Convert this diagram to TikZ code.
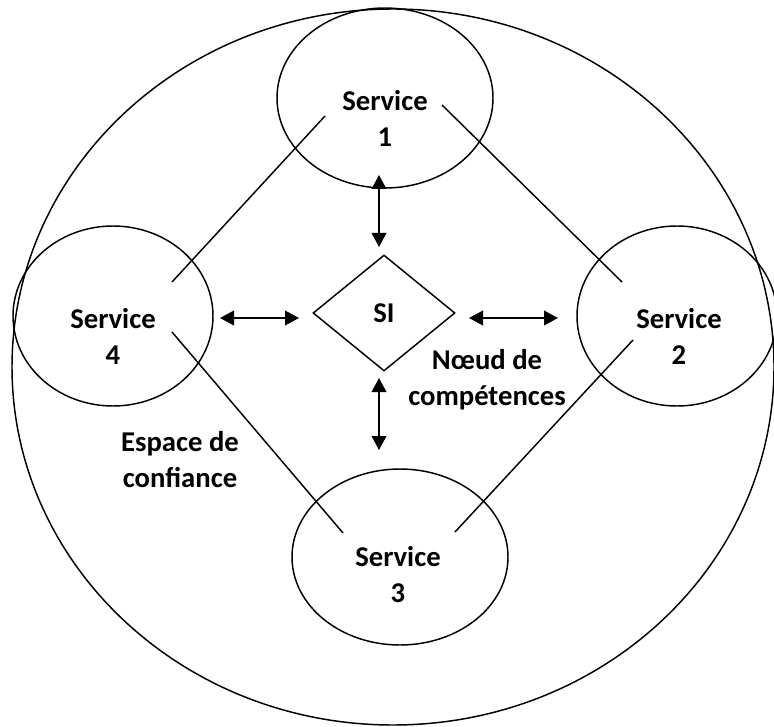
\documentclass[tikz,border=0pt]{standalone}
\usepackage{fontspec}
\setmainfont{Carlito}
\usetikzlibrary{shapes.geometric,arrows.meta}

\begin{document}
\begin{tikzpicture}[x=0.75pt, y=-0.75pt, line width=1.1pt,
		txt/.style={align=center, inner sep=0pt, font=\bfseries\fontsize{21.5}{27}\selectfont},
		service/.style={shape=ellipse, draw, inner sep=0pt, minimum width=160pt, minimum height=135pt},
		si/.style={txt, shape=diamond, draw, aspect=1.22, minimum width=106.5pt, minimum height=87pt},
		fleche/.style={{Triangle[length=10.5pt,width=11pt]}-{Triangle[length=10.5pt,width=11pt]}}]
		\useasboundingbox (0,0) rectangle (774,727);
		% espace de confiance
		\node (espace) at (393,367) [ellipse, draw, minimum width=571.5pt, minimum height=537pt] {};
		% services
		\node (s1) at (385,98) [service, minimum width=162pt] {};
		\node (s2) at (677,316) [service, minimum width=150pt] {};
		\node (s3) at (400,557) [service, minimum width=162pt, minimum height=132pt] {};
		\node (s4) at (113,316) [service, minimum width=150pt] {};
		\node (s1t) at (385,118) [txt] {Service\\1};
		\node (s2t) at (679,336) [txt] {Service\\2};
		\node (s3t) at (398,575) [txt] {Service\\3};
		\node (s4t) at (113,336) [txt] {Service\\4};
		\node (si) at (384,313) [si] {SI};
		\node (noeud) at (487,380) [txt] {N\oe ud de\\comp\'etences};
		\node (confiance) at (180,460) [txt] {Espace de\\confiance};
		% liaisons entre services
		\coordinate (s1g) at (325,116);
		\coordinate (s1d) at (442,105);
		\coordinate (s4h) at (172,282);
		\coordinate (s4b) at (172,332);
		\coordinate (s2h) at (622,282);
		\coordinate (s2b) at (633,340);
		\coordinate (s3g) at (343,533);
		\coordinate (s3d) at (455,532);
		\draw (s1g) -- (s4h);
		\draw (s1d) -- (s2h);
		\draw (s4b) -- (s3g);
		\draw (s2b) -- (s3d);
		% echanges avec le SI
		\coordinate (ah) at (379,175);
		\coordinate (ahs) at (379,247);
		\coordinate (ag) at (220,318);
		\coordinate (ags) at (299,318);
		\coordinate (ad) at (469,318);
		\coordinate (ads) at (558,318);
		\coordinate (ab) at (379,378);
		\coordinate (abs) at (379,450);
		\draw[fleche] (ah) -- (ahs);
		\draw[fleche] (ag) -- (ags);
		\draw[fleche] (ad) -- (ads);
		\draw[fleche] (ab) -- (abs);
\end{tikzpicture}
\end{document}
